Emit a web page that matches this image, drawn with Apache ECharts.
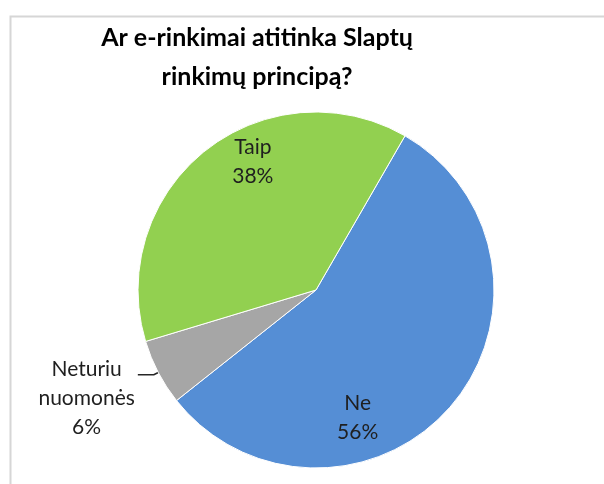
<!DOCTYPE html>
<html>
<head>
<meta charset="utf-8">
<script src="https://cdn.jsdelivr.net/npm/echarts@6/dist/echarts.min.js"></script>
<style>
html,body{margin:0;padding:0;background:#fff;}
#chart{width:604px;height:484px;}
</style>
</head>
<body>
<div id="chart"></div>
<script>
const titleText = 'Ar e-rinkimai atitinka Slaptų\nrinkimų principą?';
const categories = ['Ne', 'Neturiu nuomonės', 'Taip'];
const values = [56, 6, 38];
const colors = ['#558ed5', '#a6a6a6', '#92d050'];

const FONT = 'Lato';
const chart = echarts.init(document.getElementById('chart'), null, {renderer: 'canvas'});

const labelShift = {
  'Ne': [-28, 68],
  'Taip': [-6, -56]
};

const data = categories.map((name, i) => {
  const item = {name: name, value: values[i], itemStyle: {color: colors[i]}};
  if (name === 'Neturiu nuomonės') {
    item.label = {
      position: 'outside',
      formatter: (p) => '{c|Neturiu}\n{c|nuomonės}\n{c|' + p.value + '%}',
      padding: [46, 0, 0, 0],
      rich: {c: {align: 'center', fontFamily: FONT, fontSize: 21, lineHeight: 29, color: '#1f1f1f'}}
    };
    item.labelLine = {show: true, length: 5, length2: 16, smooth: false,
      lineStyle: {color: '#262626', width: 1.5}};
  } else {
    item.label = {position: 'inside', formatter: '{b}\n{c}%'};
    item.labelLine = {show: false};
  }
  return item;
});

chart.setOption({
  animation: false,
  backgroundColor: '#fff',
  title: {
    text: titleText,
    left: 252,
    top: 13,
    textAlign: 'center',
    textStyle: {fontFamily: FONT, fontWeight: 'bold', fontSize: 25, lineHeight: 39, color: '#000'}
  },
  graphic: [{
    type: 'rect',
    left: 8, top: 14,
    shape: {width: 700, height: 600},
    style: {fill: 'none', stroke: '#d6d6d6', lineWidth: 2},
    silent: true, z: -1
  }],
  series: [{
    type: 'pie',
    center: [316, 290],
    radius: 178,
    startAngle: 60,
    clockwise: true,
    avoidLabelOverlap: false,
    itemStyle: {borderColor: '#fff', borderWidth: 1},
    label: {
      fontFamily: FONT, fontSize: 21, lineHeight: 29, color: '#1f1f1f',
      distanceToLabelLine: 3
    },
    labelLayout: function (params) {
      const name = categories[params.dataIndex];
      const s = labelShift[name];
      if (s) return {dx: s[0], dy: s[1]};
      return {};
    },
    emphasis: {disabled: true},
    data: data
  }]
});
</script>
</body>
</html>
